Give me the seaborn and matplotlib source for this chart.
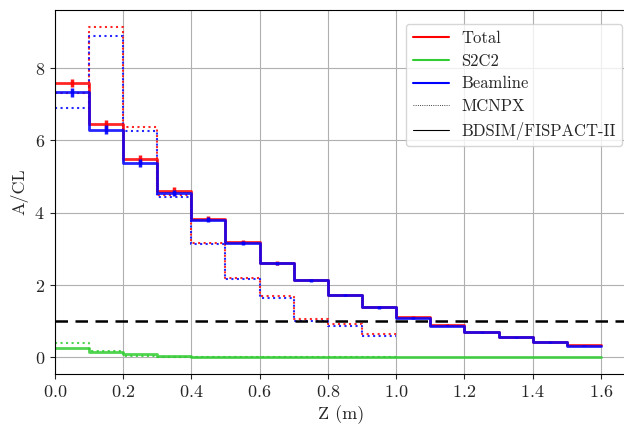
import numpy as np
import pandas as pd
import matplotlib
matplotlib.use("Agg")
import matplotlib.pyplot as plt
from matplotlib.lines import Line2D
import seaborn as sns

# ---- data ----
edges_bdsim = [0.0, 0.1, 0.2, 0.3, 0.4, 0.5, 0.6, 0.7, 0.8, 0.9, 1.0,
               1.1, 1.2, 1.3, 1.4, 1.5, 1.6]
total_bdsim = [7.59, 6.45, 5.48, 4.61, 3.83, 3.19, 2.61, 2.14, 1.73, 1.39,
               1.11, 0.89, 0.70, 0.56, 0.43, 0.33]
beam_bdsim = [7.33, 6.30, 5.39, 4.55, 3.81, 3.17, 2.60, 2.13, 1.72, 1.38,
              1.10, 0.88, 0.69, 0.55, 0.42, 0.32]
s2c2_bdsim = [0.26, 0.16, 0.09, 0.05, 0.02, 0.015, 0.01, 0.01, 0.01, 0.01,
              0.01, 0.01, 0.01, 0.01, 0.01, 0.01]
total_err = [0.12, 0.12, 0.11, 0.09, 0.07, 0.06, 0.05, 0.04, 0.035, 0.03,
             0.025, 0.02, 0.02, 0.015, 0.015, 0.01]
beam_err = [0.13, 0.12, 0.11, 0.09, 0.07, 0.06, 0.05, 0.04, 0.035, 0.03,
            0.025, 0.02, 0.02, 0.015, 0.015, 0.01]

edges_mcnpx = [0.0, 0.1, 0.2, 0.3, 0.4, 0.5, 0.6, 0.7, 0.8, 0.9, 1.0]
total_mcnpx = [7.31, 9.15, 6.36, 4.48, 3.16, 2.20, 1.69, 1.06, 0.91, 0.64]
beam_mcnpx = [6.90, 8.89, 6.26, 4.44, 3.13, 2.16, 1.65, 1.02, 0.88, 0.60]
s2c2_mcnpx = [0.41, 0.19, 0.03, 0.02, 0.01, 0.01, 0.01, 0.01, 0.01, 0.01]

limit = 1.0
labels = ["Total", "S2C2", "Beamline", "MCNPX", "BDSIM/FISPACT-II"]
colors = {"Total": "red", "S2C2": "limegreen", "Beamline": "blue"}

# ---- style ----
sns.set_style("ticks")
plt.rcParams["font.family"] = ["cmr10", "DejaVu Serif"]
plt.rcParams["mathtext.fontset"] = "cm"
plt.rcParams["axes.formatter.use_mathtext"] = True
plt.rcParams["axes.unicode_minus"] = False

fig = plt.figure(figsize=(6.24, 4.25), dpi=100)
ax = fig.add_axes([0.0877, 0.12, 1.007 - 0.0877, 0.9765 - 0.12])


def step(edges, vals, color, ls, lw, alpha):
    x = list(edges)
    y = list(vals) + [vals[-1]]
    sns.lineplot(x=x, y=y, drawstyle="steps-post", color=color, linestyle=ls,
                 lw=lw, alpha=alpha, ax=ax, errorbar=None, sort=False)


centers = [(a + b) / 2 for a, b in zip(edges_bdsim[:-1], edges_bdsim[1:])]

# MCNPX dotted
step(edges_mcnpx, total_mcnpx, colors["Total"], ":", 1.5, 0.85)
step(edges_mcnpx, s2c2_mcnpx, colors["S2C2"], ":", 1.5, 0.85)
step(edges_mcnpx, beam_mcnpx, colors["Beamline"], ":", 1.5, 0.85)

# BDSIM solid
step(edges_bdsim, total_bdsim, colors["Total"], "-", 2.0, 0.85)
ax.errorbar(centers, total_bdsim, yerr=total_err, fmt="none",
            ecolor=colors["Total"], elinewidth=2.5, alpha=0.9)
step(edges_bdsim, s2c2_bdsim, colors["S2C2"], "-", 2.0, 0.85)
step(edges_bdsim, beam_bdsim, colors["Beamline"], "-", 2.0, 0.85)
ax.errorbar(centers, beam_bdsim, yerr=beam_err, fmt="none",
            ecolor=colors["Beamline"], elinewidth=2.5, alpha=0.9)

ax.axhline(limit, color="black", ls="--", lw=1.8, dashes=(5, 3))

ax.set_xlim(0, 1.68)
ax.set_ylim(-0.46, 9.61)
ax.set_xticks([0.0, 0.2, 0.4, 0.6, 0.8, 1.0, 1.2, 1.4, 1.6])
ax.set_yticks([0, 2, 4, 6, 8])
ax.grid(True, color="#b0b0b0", lw=0.8)
ax.tick_params(labelsize=13, direction="out", length=3.5, width=0.8)
ax.set_xlabel("Z (m)", fontsize=13)
ax.set_ylabel("A/CL", fontsize=13)
for s in ax.spines.values():
    s.set_linewidth(0.8)
    s.set_color("black")

handles = [
    Line2D([0], [0], color="red", lw=1.5),
    Line2D([0], [0], color="limegreen", lw=1.5),
    Line2D([0], [0], color="blue", lw=1.5),
    Line2D([0], [0], color="black", lw=0.6, ls=":"),
    Line2D([0], [0], color="black", lw=0.8, ls="-"),
]
leg = ax.legend(handles, labels, loc="upper left",
                bbox_to_anchor=(0.598, 0.985), fontsize=12,
                frameon=True, fancybox=True, framealpha=0.8,
                edgecolor="#cccccc", handlelength=2.2, borderpad=0.4,
                labelspacing=0.45, handletextpad=0.7)

fig.savefig("out.png", dpi=100)
